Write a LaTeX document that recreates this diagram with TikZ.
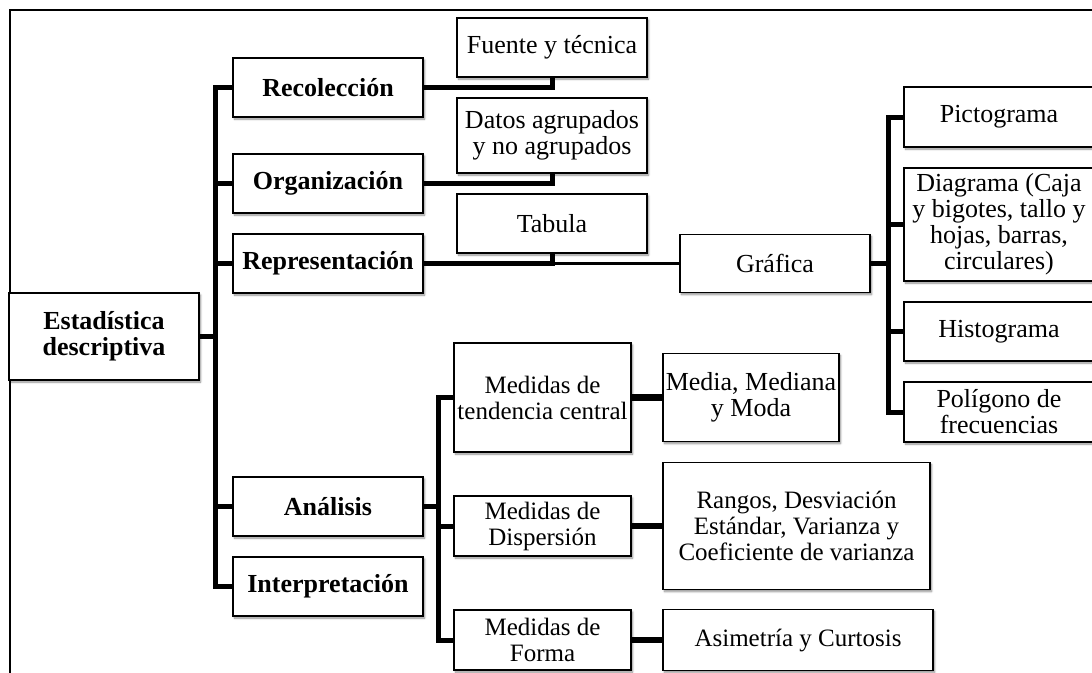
\documentclass[tikz,border=0pt]{standalone}
\usepackage{fontspec}
\setmainfont{Liberation Serif}
\usetikzlibrary{shadows.blur}
\begin{document}
\begin{tikzpicture}[x=1pt,y=-1pt,
  box/.style={draw, line width=1.3pt, fill=white, inner sep=0pt, align=center,
    font=\fontsize{26}{26}\selectfont,
    blur shadow={shadow xshift=1.5pt, shadow yshift=-2pt, shadow blur radius=2pt,
      shadow blur steps=6, shadow opacity=45}},
  smallbox/.style={box, font=\fontsize{25}{26}\selectfont},
  head/.style={box, font=\fontsize{26}{26}\selectfont\bfseries},
  conn/.style={line width=5pt, line join=miter},
  thinconn/.style={line width=3pt},
  wideconn/.style={line width=6.5pt}]

\useasboundingbox (0,0) rectangle (1092,672);
\clip (0,0) rectangle (1092,672);

% outer frame
\draw[line width=1.3pt] (10,700) -- (10,10) -- (1120,10);

% spine positions
\coordinate (sp1) at (215,0);
\coordinate (sp2) at (888,0);
\coordinate (sp3) at (438,0);

% root and first level
\node[head, minimum width=190pt, minimum height=87pt] (root) at (104,336.5) {Estadística\\descriptiva};
\node[head, minimum width=190pt, minimum height=59pt] (rec) at (328,87.5) {Recolección};
\node[head, minimum width=190pt, minimum height=59pt] (org) at (328,183.5) {Organización};
\node[head, minimum width=190pt, minimum height=59pt] (rep) at (328,263.5) {Representación};
\node[head, minimum width=190pt, minimum height=59pt] (ana) at (328,506.5) {Análisis};
\node[head, minimum width=190pt, minimum height=59pt] (int) at (328,586.5) {Interpretación};

% second level
\node[box, minimum width=190pt, minimum height=59pt] (fue) at (552,47.5) {Fuente y técnica};
\node[box, minimum width=190pt, minimum height=75pt] (dat) at (552,135.5) {Datos agrupados\\y no agrupados};
\node[box, minimum width=190pt, minimum height=59pt] (tab) at (552,223.5) {Tabula};
\node[box, minimum width=190pt, minimum height=58pt] (graf) at (775,263.5) {Gráfica};

% kinds of graphs
\node[box, minimum width=190pt, minimum height=60pt] (pic) at (999,117) {Pictograma};
\node[box, minimum width=190pt, minimum height=113pt] (dia) at (999,224.5) {Diagrama (Caja\\y bigotes, tallo y\\hojas, barras,\\circulares)};
\node[box, minimum width=190pt, minimum height=59pt] (his) at (999,331.5) {Histograma};
\node[box, minimum width=190pt, minimum height=60pt] (pol) at (999,412) {Polígono de\\frecuencias};

% measures
\node[smallbox, minimum width=177pt, minimum height=109pt] (mtc) at (542.5,397.5) {Medidas de\\tendencia central};
\node[box, minimum width=176pt, minimum height=88pt] (mmm) at (751,397.5) {Media, Mediana\\y Moda};
\node[smallbox, minimum width=177pt, minimum height=60pt] (mdi) at (542.5,526) {Medidas de\\Dispersión};
\node[smallbox, minimum width=267pt, minimum height=127pt] (ran) at (796.5,526) {Rangos, Desviación\\Estándar, Varianza y\\Coeficiente de varianza};
\node[smallbox, minimum width=177pt, minimum height=60pt] (mfo) at (542.5,640) {Medidas de\\Forma};
\node[smallbox, minimum width=270pt, minimum height=61pt] (asi) at (798,640) {Asimetría y Curtosis};

% main spine
\draw[conn] (rec.west) -- (rec.west -| sp1) -- (int.west -| sp1) -- (int.west);
\draw[conn] (org.west) -- (org.west -| sp1);
\draw[conn] (rep.west) -- (rep.west -| sp1);
\draw[conn] (ana.west) -- (ana.west -| sp1);
\draw[conn] (root.east) -- (root.east -| sp1);

% first level to second level
\draw[conn] (rec.east) -| (fue.south);
\draw[conn] (org.east) -| (dat.south);
\draw[conn] (rep.east) -| (tab.south);
\draw[thinconn] (tab.south |- rep.east) -- (graf.west);

% graph kinds
\draw[conn] (pic.west) -- (pic.west -| sp2) -- (pol.west -| sp2) -- (pol.west);
\draw[conn] (dia.west) -- (dia.west -| sp2);
\draw[conn] (his.west) -- (his.west -| sp2);
\draw[conn] (graf.east) -- (graf.east -| sp2);

% analysis branch
\draw[conn] (mtc.west) -- (mtc.west -| sp3) -- (mfo.west -| sp3) -- (mfo.west);
\draw[conn] (mdi.west) -- (mdi.west -| sp3);
\draw[conn] (ana.east) -- (ana.east -| sp3);
\draw[wideconn] (mtc.east) -- (mmm.west);
\draw[wideconn] (mdi.east) -- (ran.west);
\draw[wideconn] (mfo.east) -- (asi.west);
\end{tikzpicture}
\end{document}
